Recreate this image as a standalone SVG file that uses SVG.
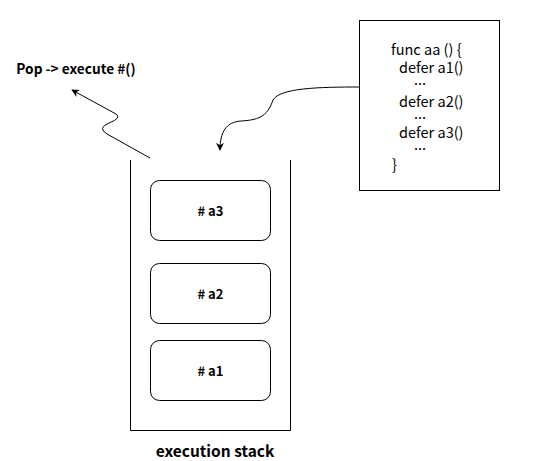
<svg xmlns="http://www.w3.org/2000/svg" width="551" height="461" viewBox="0 0 551 461">
<style>
text{font-family:"Noto Sans CJK SC","Noto Sans",sans-serif;fill:#000}
.b{font-weight:bold;font-size:13px;text-anchor:middle;dominant-baseline:central}
.c{font-size:14.5px;dominant-baseline:central}
.box{fill:#fff;stroke:#000;stroke-width:1}
.ln{fill:none;stroke:#000;stroke-width:1}
</style>
<defs>
<marker id="ah" viewBox="0 0 10 10" refX="9" refY="5" markerWidth="8" markerHeight="8" orient="auto" markerUnits="userSpaceOnUse">
<path d="M0,0 L10,5 L0,10 L3,5 Z" fill="#000"/>
</marker>
</defs>
<rect width="551" height="461" fill="#fff"/>
<g id="stack">
<path class="ln" d="M130.5,160 V430.5 H290.5 V160"/>
<text class="b" x="215" y="449.5" style="font-size:15.5px">execution stack</text>
</g>
<g id="a3"><rect class="box" x="150.5" y="180.5" width="120" height="60" rx="9"/><text class="b" x="210.5" y="210.5"># a3</text></g>
<g id="a2"><rect class="box" x="150.5" y="263.5" width="120" height="60" rx="9"/><text class="b" x="210.5" y="293.5"># a2</text></g>
<g id="a1"><rect class="box" x="150.5" y="340.5" width="120" height="60" rx="9"/><text class="b" x="210.5" y="370.5"># a1</text></g>
<g id="code">
<rect class="box" x="359.5" y="20.5" width="140" height="170"/>
<text class="c" x="391" y="48">func aa () {</text>
<text class="c" x="399" y="66">defer a1()</text>
<text class="c" x="414" y="78">...</text>
<text class="c" x="399" y="100">defer a2()</text>
<text class="c" x="414" y="112">...</text>
<text class="c" x="399" y="131">defer a3()</text>
<text class="c" x="414" y="143">...</text>
<text class="c" x="392" y="163">}</text>
</g>
<g id="pop"><text class="b" x="76" y="68" style="font-size:13.7px">Pop -&gt; execute #()</text></g>
<g id="connectors">
<path class="ln" d="M360,87 C318,87 280,88 273,100 C268,114 262,120 241,121 C226,122 220,132 220,150" marker-end="url(#ah)"/>
<path class="ln" d="M150,158 L107,134 Q97,128 109,123 Q122,118 116,114 L72,90" marker-end="url(#ah)"/>
</g>
</svg>
